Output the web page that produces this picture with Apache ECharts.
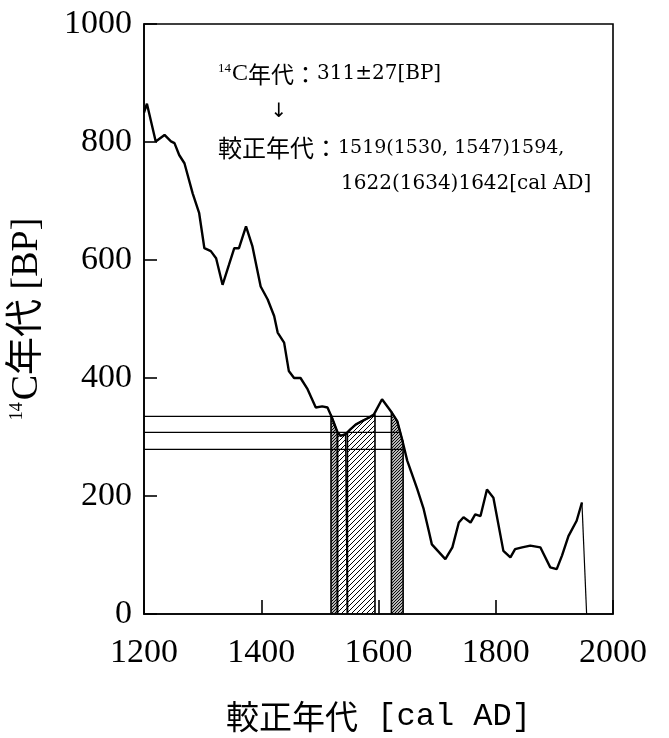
<!DOCTYPE html>
<html>
<head>
<meta charset="utf-8">
<script src="https://cdn.jsdelivr.net/npm/echarts@6/dist/echarts.min.js"></script>
<style>
  html, body { margin: 0; padding: 0; background: #fff; }
  #main { width: 669px; height: 738px; }
</style>
</head>
<body>
<div id="main"></div>
<script>
// 較正曲線（暦年 / 14C年代）
const curveYears = [1200, 1205, 1220, 1235, 1246, 1252, 1260, 1269, 1283, 1294, 1303, 1314, 1323, 1334, 1345, 1354, 1362, 1374, 1385, 1399,
  1411, 1422, 1428, 1439, 1447, 1456, 1467, 1479, 1493, 1504, 1513, 1521, 1530, 1535, 1544, 1552, 1561, 1572, 1584, 1592,
  1606, 1623, 1632, 1640, 1649, 1666, 1677, 1686, 1691, 1714, 1726, 1737, 1745, 1757, 1765, 1774, 1785, 1796, 1813, 1825,
  1833, 1845, 1859, 1876, 1893, 1904, 1913, 1924, 1938, 1947]
const curveBP = [850, 865, 801, 812, 801, 798, 778, 764, 713, 680, 620, 615, 603, 558, 592, 620, 620, 657, 623, 555,
  533, 505, 477, 460, 412, 400, 400, 381, 350, 352, 350, 332, 308, 302, 305, 313, 321, 327, 333, 338,
  364, 341, 327, 297, 260, 212, 178, 140, 118, 93, 113, 155, 164, 155, 169, 166, 211, 197, 107, 96,
  110, 113, 116, 113, 79, 76, 99, 132, 158, 189]
// 最後の細い線
const tailYears = [1947, 1955]
const tailBP = [189, 0]

// 14C年代 311±27 の水平線（値, 右端の年）
const hLineBP = [335, 308, 279]
const hLineEnd = [1623, 1636, 1643]

// 斜線部分（較正年代の範囲）
const dense1Years = [1519, 1519, 1521, 1530, 1530]
const dense1BP = [0, 338, 332, 308, 0]
const light1Years = [1530, 1530, 1535, 1544, 1547, 1547]
const light1BP = [0, 308, 302, 305, 308, 0]
const light2Years = [1547, 1547, 1552, 1561, 1572, 1584, 1594, 1594]
const light2BP = [0, 308, 313, 321, 327, 333, 338, 0]
const dense2Years = [1622, 1622, 1632, 1640, 1642, 1642]
const dense2BP = [0, 342, 327, 297, 292, 0]

const xTicks = [1200, 1400, 1600, 1800, 2000]
const yTicks = [0, 200, 400, 600, 800, 1000]

const zip = (xs, ys) => xs.map((x, i) => [x, ys[i]])

// 斜線パターン
const makeHatch = (size, width) => {
  const c = document.createElement('canvas')
  c.width = size
  c.height = size
  const ctx = c.getContext('2d')
  ctx.strokeStyle = '#000'
  ctx.lineWidth = width
  ctx.beginPath()
  ctx.moveTo(0, size); ctx.lineTo(size, 0)
  ctx.moveTo(-1, 1); ctx.lineTo(1, -1)
  ctx.moveTo(size - 1, size + 1); ctx.lineTo(size + 1, size - 1)
  ctx.stroke()
  return { image: c, repeat: 'repeat' }
}
const denseHatch = makeHatch(3, 1.1)
const lightHatch = makeHatch(5, 1)

const serif = "'Liberation Serif', 'Noto Sans CJK JP', serif"
const dserif = "'DejaVu Serif', serif"
const cjk = "'Noto Sans CJK JP', sans-serif"

const hatchSeries = (data, pattern) => ({
  type: 'line',
  data: data,
  symbol: 'none',
  silent: true,
  lineStyle: { color: '#000', width: 1.6 },
  areaStyle: { color: pattern, opacity: 1, origin: 'start' },
  z: 2
})

const series = [
  hatchSeries(zip(dense1Years, dense1BP), denseHatch),
  hatchSeries(zip(light1Years, light1BP), lightHatch),
  hatchSeries(zip(light2Years, light2BP), lightHatch),
  hatchSeries(zip(dense2Years, dense2BP), denseHatch)
]
hLineBP.forEach((v, i) => {
  series.push({
    type: 'line',
    data: [[1200, v], [hLineEnd[i], v]],
    symbol: 'none',
    silent: true,
    lineStyle: { color: '#000', width: 1.2 },
    z: 3
  })
})
series.push({
  type: 'line',
  data: zip(curveYears, curveBP),
  symbol: 'none',
  lineStyle: { color: '#000', width: 2.4 },
  z: 4
})
series.push({
  type: 'line',
  data: zip(tailYears, tailBP),
  symbol: 'none',
  lineStyle: { color: '#000', width: 1.2 },
  z: 4
})

const chart = echarts.init(document.getElementById('main'))
chart.setOption({
  animation: false,
  backgroundColor: '#fff',
  grid: {
    left: 143, right: 56, top: 24, bottom: 123,
    show: true, borderColor: '#000', borderWidth: 1.6, backgroundColor: 'transparent'
  },
  xAxis: {
    type: 'value',
    min: xTicks[0], max: xTicks[xTicks.length - 1], interval: 200,
    axisLine: { lineStyle: { color: '#000', width: 1.6 } },
    axisTick: { inside: true, length: 14, lineStyle: { color: '#000', width: 1.6 } },
    splitLine: { show: false },
    axisLabel: { color: '#000', fontFamily: serif, fontSize: 34, margin: 22, formatter: v => String(v) },
    name: '{j|較正年代}{m| [cal AD]}',
    nameLocation: 'middle',
    nameGap: 86,
    nameTextStyle: {
      rich: {
        j: { fontFamily: cjk, fontSize: 33, color: '#000' },
        m: { fontFamily: "'Liberation Mono', monospace", fontSize: 32, color: '#000' }
      }
    }
  },
  yAxis: {
    type: 'value',
    min: yTicks[0], max: yTicks[yTicks.length - 1], interval: 200,
    axisLine: { lineStyle: { color: '#000', width: 1.6 } },
    axisTick: { inside: true, length: 13, lineStyle: { color: '#000', width: 1.6 } },
    splitLine: { show: false },
    axisLabel: { color: '#000', fontFamily: serif, fontSize: 34, margin: 12, formatter: v => String(v) },
    name: '{s|14}{n|C年代 [BP]}',
    nameLocation: 'middle',
    nameGap: 98,
    nameRotate: 90,
    nameTextStyle: {
      rich: {
        s: { fontFamily: serif, fontSize: 18, color: '#000', verticalAlign: 'top', padding: [0, 2, 14, 0] },
        n: { fontFamily: serif, fontSize: 38, color: '#000' }
      }
    }
  },
  graphic: [
    {
      type: 'text', x: 218, y: 74,
      style: {
        text: '{s|14}{c|C}{j|年代：}{d|311±27[BP]}',
        verticalAlign: 'middle',
        rich: {
          s: { fontFamily: serif, fontSize: 13, fill: '#000', padding: [0, 1, 10, 0] },
          c: { fontFamily: serif, fontSize: 24, fill: '#000' },
          j: { fontFamily: cjk, fontSize: 23, fill: '#000' },
          d: { fontFamily: dserif, fontSize: 20, fill: '#000' }
        }
      }
    },
    {
      type: 'text', x: 279, y: 112,
      style: { text: '↓', font: "20px 'DejaVu Sans'", fill: '#000', align: 'center', verticalAlign: 'middle' }
    },
    {
      type: 'text', x: 218, y: 148,
      style: {
        text: '{j|較正年代：}{d|1519(1530, 1547)1594,}',
        verticalAlign: 'middle',
        rich: {
          j: { fontFamily: cjk, fontSize: 24, fill: '#000' },
          d: { fontFamily: dserif, fontSize: 19, fill: '#000' }
        }
      }
    },
    {
      type: 'text', x: 341, y: 184,
      style: { text: '1622(1634)1642[cal AD]', font: "20px " + dserif, fill: '#000', verticalAlign: 'middle' }
    }
  ],
  series: series
})
</script>
</body>
</html>
